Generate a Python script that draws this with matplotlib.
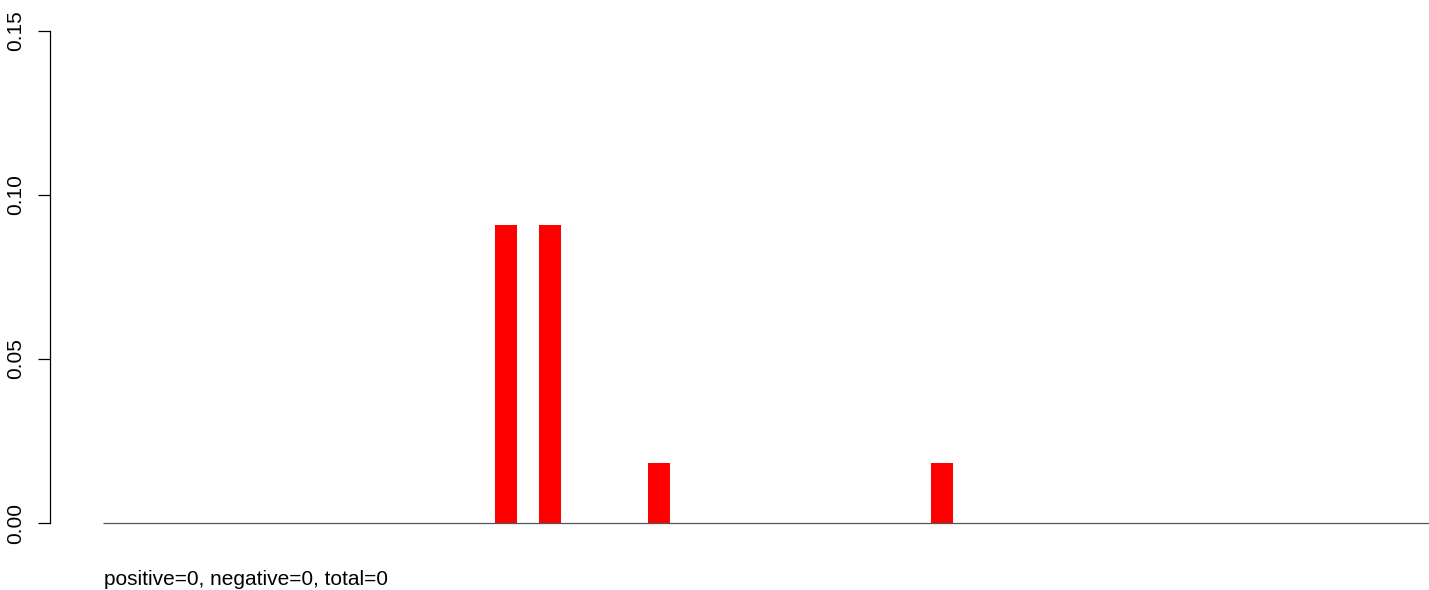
import matplotlib
matplotlib.use("Agg")
import matplotlib.pyplot as plt

# bins along the x axis, only a few are non-zero
n_bins = 61
bar_index = [18, 20, 25, 38]
bar_value = [0.0909, 0.0909, 0.0182, 0.0182]
y_ticks = [0.00, 0.05, 0.10, 0.15]
y_labels = ["0.00", "0.05", "0.10", "0.15"]
caption = "positive=0, negative=0, total=0"

plt.rcParams["font.family"] = ["Liberation Sans", "DejaVu Sans"]

fig = plt.figure(figsize=(14.29, 5.9), dpi=100)
ax = fig.add_axes([50 / 1429, 0.0802, 1379 / 1429, 0.9007])

ax.bar(bar_index, bar_value, width=1.0, align="edge", color="red", linewidth=0)
ax.hlines(0, 0, n_bins, color="#555555", linewidth=0.9, clip_on=True)

ax.set_xlim(-2.43, 60.83)
ax.set_ylim(-0.006, 0.156)

for s in ["top", "right", "bottom"]:
    ax.spines[s].set_visible(False)
ax.spines["left"].set_bounds(0, 0.15)
ax.spines["left"].set_linewidth(0.9)

ax.set_xticks([])
ax.set_yticks(y_ticks)
ax.set_yticklabels(y_labels, rotation=90, va="center", fontsize=15)
ax.tick_params(axis="y", length=8.6, width=0.9, pad=9)

fig.text(104 / 1429, 5 / 590, caption, fontsize=15, va="baseline", ha="left")

fig.savefig("out.png", dpi=100)
